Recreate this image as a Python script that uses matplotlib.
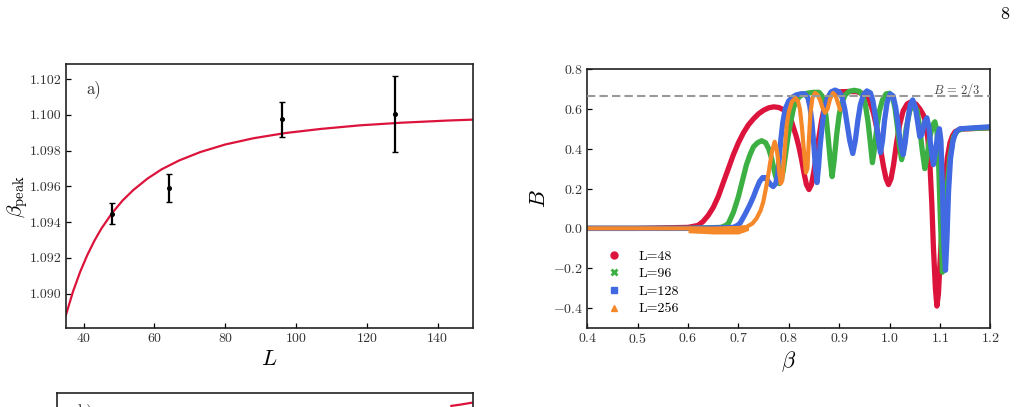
import matplotlib
matplotlib.use("Agg")
import matplotlib.pyplot as plt
from matplotlib.lines import Line2D
from matplotlib.ticker import FormatStrFormatter, MultipleLocator

plt.rcParams['font.family'] = 'serif'
plt.rcParams['font.serif'] = ['cmr10']
plt.rcParams['mathtext.fontset'] = 'cm'
plt.rcParams['axes.formatter.use_mathtext'] = True
plt.rcParams['font.size'] = 10

RED = '#DC143C'
GREEN = '#3cb043'
BLUE = '#4169E1'
ORANGE = '#f5892a'
TXT = '#333333'

# --- panel a) data: peak position vs L
L_data = [48, 64, 96, 128]
beta_peak = [1.09448, 1.09592, 1.09974, 1.10004]
beta_err = [0.00060, 0.00077, 0.00098, 0.00213]

fit_L = [35, 37, 39, 41, 43, 45, 48, 51, 54, 58, 62, 67, 73, 80, 88, 97,
         107, 118, 130, 143, 150]
fit_beta = [1.08882, 1.09013, 1.09122, 1.09215, 1.09295, 1.09364, 1.09450,
            1.09521, 1.09579, 1.09643, 1.09695, 1.09745, 1.09792, 1.09834,
            1.09869, 1.09898, 1.09921, 1.09941, 1.09956, 1.09968, 1.09973]

# --- right panel data: B(beta) for several L
beta_48 = [0.40, 0.50, 0.60, 0.62, 0.63, 0.64, 0.65, 0.66, 0.67, 0.68, 0.69,
           0.70, 0.71, 0.72, 0.73, 0.74, 0.75, 0.76, 0.77, 0.78, 0.79, 0.80,
           0.805, 0.81, 0.815, 0.82, 0.825, 0.83, 0.835, 0.84, 0.845, 0.85,
           0.855, 0.86, 0.865, 0.87, 0.875, 0.88, 0.89, 0.905, 0.92, 0.935,
           0.95, 0.96, 0.968, 0.975, 0.982, 0.988, 0.993, 0.998, 1.003, 1.008,
           1.014, 1.02, 1.027, 1.035, 1.043, 1.052, 1.06, 1.067, 1.072, 1.076,
           1.08, 1.084, 1.087, 1.091, 1.094, 1.097, 1.100, 1.105, 1.110,
           1.115, 1.120, 1.125, 1.130, 1.14, 1.20]
B_48 = [0.0, 0.0, 0.005, 0.015, 0.035, 0.065, 0.105, 0.16, 0.23, 0.30, 0.37,
        0.43, 0.48, 0.52, 0.55, 0.575, 0.593, 0.605, 0.61, 0.607, 0.595,
        0.565, 0.54, 0.50, 0.46, 0.41, 0.35, 0.28, 0.22, 0.195, 0.22, 0.29,
        0.37, 0.46, 0.54, 0.60, 0.64, 0.665, 0.68, 0.686, 0.687, 0.686,
        0.675, 0.64, 0.58, 0.50, 0.40, 0.31, 0.25, 0.22, 0.25, 0.32, 0.43,
        0.52, 0.59, 0.625, 0.635, 0.625, 0.60, 0.57, 0.53, 0.45, 0.33, 0.12,
        -0.09, -0.30, -0.39, -0.33, -0.18, 0.04, 0.24, 0.36, 0.43, 0.465,
        0.485, 0.498, 0.505]

beta_96 = [0.40, 0.50, 0.60, 0.665, 0.675, 0.68, 0.69, 0.70, 0.708, 0.716,
           0.723, 0.73, 0.738, 0.746, 0.754, 0.76, 0.766, 0.772, 0.777, 0.781,
           0.785, 0.789, 0.794, 0.799, 0.805, 0.81, 0.816, 0.822, 0.83, 0.84,
           0.85, 0.86, 0.866, 0.87, 0.874, 0.878, 0.882, 0.886, 0.89, 0.895,
           0.90, 0.905, 0.912, 0.92, 0.93, 0.94, 0.947, 0.952, 0.957, 0.961,
           0.966, 0.970, 0.975, 0.98, 0.986, 0.993, 1.0, 1.006, 1.011, 1.016,
           1.020, 1.024, 1.028, 1.033, 1.040, 1.048, 1.055, 1.060, 1.065,
           1.070, 1.075, 1.080, 1.086, 1.090, 1.094, 1.097, 1.100, 1.103,
           1.105, 1.108, 1.111, 1.115, 1.120, 1.127, 1.135, 1.145, 1.20]
B_96 = [0.0, 0.0, 0.0, 0.005, 0.015, 0.025, 0.08, 0.16, 0.24, 0.32, 0.37,
        0.41, 0.43, 0.44, 0.43, 0.40, 0.35, 0.28, 0.235, 0.225, 0.245, 0.29,
        0.38, 0.47, 0.55, 0.61, 0.645, 0.663, 0.675, 0.68, 0.683, 0.683,
        0.665, 0.63, 0.56, 0.46, 0.35, 0.26, 0.34, 0.47, 0.57, 0.63, 0.67,
        0.688, 0.693, 0.688, 0.665, 0.62, 0.54, 0.45, 0.33, 0.40, 0.51, 0.59,
        0.645, 0.675, 0.678, 0.66, 0.60, 0.50, 0.41, 0.345, 0.40, 0.50, 0.59,
        0.625, 0.59, 0.50, 0.39, 0.30, 0.37, 0.46, 0.52, 0.535, 0.49, 0.36,
        0.12, -0.10, -0.22, -0.10, 0.08, 0.22, 0.36, 0.46, 0.49, 0.50, 0.505]

beta_128 = [0.40, 0.50, 0.60, 0.69, 0.698, 0.703, 0.713, 0.723, 0.73, 0.736,
            0.742, 0.748, 0.753, 0.758, 0.764, 0.769, 0.774, 0.778, 0.781,
            0.784, 0.788, 0.793, 0.80, 0.808, 0.815, 0.825, 0.832, 0.838,
            0.842, 0.846, 0.85, 0.853, 0.856, 0.859, 0.862, 0.866, 0.87,
            0.876, 0.884, 0.892, 0.9, 0.906, 0.911, 0.916, 0.921, 0.927,
            0.932, 0.937, 0.942, 0.948, 0.955, 0.962, 0.967, 0.972, 0.977,
            0.982, 0.986, 0.990, 0.995, 1.001, 1.007, 1.012, 1.017, 1.022,
            1.027, 1.031, 1.036, 1.041, 1.046, 1.051, 1.056, 1.060, 1.064,
            1.069, 1.074, 1.078, 1.082, 1.087, 1.091, 1.095, 1.099, 1.102,
            1.105, 1.108, 1.111, 1.114, 1.117, 1.121, 1.126, 1.132, 1.14,
            1.20]
B_128 = [0.0, 0.0, 0.0, 0.005, 0.015, 0.025, 0.07, 0.12, 0.16, 0.20, 0.235,
         0.255, 0.255, 0.24, 0.22, 0.21, 0.225, 0.27, 0.35, 0.44, 0.53, 0.60,
         0.64, 0.66, 0.67, 0.676, 0.675, 0.655, 0.61, 0.53, 0.41, 0.30, 0.23,
         0.31, 0.41, 0.51, 0.59, 0.65, 0.685, 0.694, 0.685, 0.655, 0.60, 0.52,
         0.44, 0.376, 0.44, 0.54, 0.62, 0.67, 0.69, 0.68, 0.64, 0.56, 0.46,
         0.38, 0.44, 0.54, 0.63, 0.675, 0.665, 0.61, 0.52, 0.42, 0.37, 0.43,
         0.54, 0.62, 0.645, 0.61, 0.53, 0.46, 0.47, 0.53, 0.555, 0.51, 0.41,
         0.32, 0.38, 0.46, 0.50, 0.44, 0.20, -0.08, -0.21, -0.05, 0.18, 0.35,
         0.44, 0.485, 0.50, 0.51]

beta_256 = [0.40, 0.50, 0.60, 0.65, 0.70, 0.716, 0.728, 0.736, 0.744, 0.749,
            0.753, 0.756, 0.760, 0.763, 0.767, 0.772, 0.775, 0.778, 0.781,
            0.784, 0.787, 0.790, 0.793, 0.796, 0.80, 0.806, 0.813, 0.818,
            0.822, 0.826, 0.830, 0.834, 0.837, 0.840, 0.843, 0.847, 0.852,
            0.857, 0.862, 0.867, 0.872, 0.877, 0.882, 0.888, 0.893, 0.898,
            0.902]
B_256 = [0.0, 0.0, 0.0, -0.005, 0.0, 0.007, 0.025, 0.05, 0.09, 0.13, 0.18,
         0.22, 0.28, 0.33, 0.39, 0.435, 0.41, 0.36, 0.28, 0.225, 0.24, 0.33,
         0.43, 0.52, 0.585, 0.635, 0.655, 0.64, 0.60, 0.51, 0.39, 0.28, 0.30,
         0.45, 0.58, 0.655, 0.68, 0.67, 0.645, 0.605, 0.58, 0.60, 0.65, 0.68,
         0.665, 0.625, 0.595]

# spread of the noisy L=256 points before the transition
noise_beta = [0.60, 0.65, 0.70, 0.72]
noise_lo = [-0.022, -0.028, -0.028, -0.01]
noise_hi = [0.012, 0.012, 0.015, 0.02]

series = [
    ('L=48', beta_48, B_48, RED, 'o', 3.8),
    ('L=96', beta_96, B_96, GREEN, 'x', 3.8),
    ('L=128', beta_128, B_128, BLUE, 's', 3.8),
    ('L=256', beta_256, B_256, ORANGE, '^', 3.0),
]

# --- bottom panel b) (only its top edge is visible)
b_x = [0.948, 0.97, 0.997]
b_y = [0.950, 0.955, 0.962]

fig = plt.figure(figsize=(10.17, 4.07), dpi=100)
W, H = 1017.0, 407.0

def style(ax):
    for s in ax.spines.values():
        s.set_linewidth(1.2)
        s.set_color('#222222')
    ax.tick_params(direction='in', length=3.5, width=0.9, pad=3,
                   labelsize=10, labelcolor=TXT, top=False, right=False)

# panel a)
ax1 = fig.add_axes([66 / W, 1 - 328 / H, 407 / W, 264 / H])
style(ax1)
ax1.plot(fit_L, fit_beta, color=RED, lw=1.6, zorder=2)
ax1.errorbar(L_data, beta_peak, yerr=beta_err, fmt='o', ms=2.6, color='k',
             ecolor='k', elinewidth=1.6, capsize=2, capthick=1, zorder=3)
ax1.set_xlim(35, 150)
ax1.set_ylim(1.08808, 1.10284)
ax1.xaxis.set_major_locator(MultipleLocator(20))
ax1.yaxis.set_major_locator(MultipleLocator(0.002))
ax1.yaxis.set_major_formatter(FormatStrFormatter('%.3f'))
ax1.set_xlabel(r'$L$', fontsize=16, labelpad=3)
ax1.set_ylabel(r'$\beta_{\mathrm{peak}}$', fontsize=15, labelpad=0)
ax1.text(0.049, 0.94, 'a)', transform=ax1.transAxes, fontsize=12,
         color=TXT, ha='left', va='top')

# right panel
ax2 = fig.add_axes([587.3 / W, 1 - 328 / H, 403 / W, 259 / H])
style(ax2)
ax2.fill_between(noise_beta, noise_lo, noise_hi, color=ORANGE, lw=0,
                 zorder=2.5)
handles = []
for label, bx, by, col, mk, lw in series:
    ax2.plot(bx, by, color=col, lw=lw, solid_capstyle='round',
             solid_joinstyle='round', zorder=2)
    handles.append(Line2D([], [], ls='none', marker=mk, color=col, ms=5,
                          mew=2 if mk == 'x' else 1, label=label))
ax2.axhline(2 / 3, color='#999999', lw=1.5, ls=(0, (4, 2)), zorder=3)
ax2.text(1.18, 0.676, r'$B\,=\,2/3$', fontsize=9, color='#444444',
         ha='right', va='baseline')
ax2.set_xlim(0.4, 1.2)
ax2.set_ylim(-0.5, 0.8)
ax2.xaxis.set_major_locator(MultipleLocator(0.1))
ax2.yaxis.set_major_locator(MultipleLocator(0.2))
ax2.set_xlabel(r'$\beta$', fontsize=16, labelpad=2)
ax2.set_ylabel(r'$B$', fontsize=16, labelpad=3)
ax2.legend(handles=handles, loc='lower left', frameon=False, numpoints=1,
           fontsize=10, labelspacing=0.35)

# panel b), cut by the page edge
ax3 = fig.add_axes([57 / W, (407 - 392.7 - 264) / H, 416 / W, 264 / H])
style(ax3)
ax3.tick_params(left=False, bottom=False, labelleft=False, labelbottom=False)
ax3.plot(b_x, b_y, color=RED, lw=1.6)
ax3.set_xlim(0, 1)
ax3.set_ylim(0, 1)
ax3.text(0.05, 1 - 10 / 264, 'b)', transform=ax3.transAxes, fontsize=12,
         color=TXT, ha='left', va='top')

fig.text(1005 / W, 1 - 14 / H, '8', fontsize=13, ha='center', va='center')

fig.savefig('out.png', dpi=100)
